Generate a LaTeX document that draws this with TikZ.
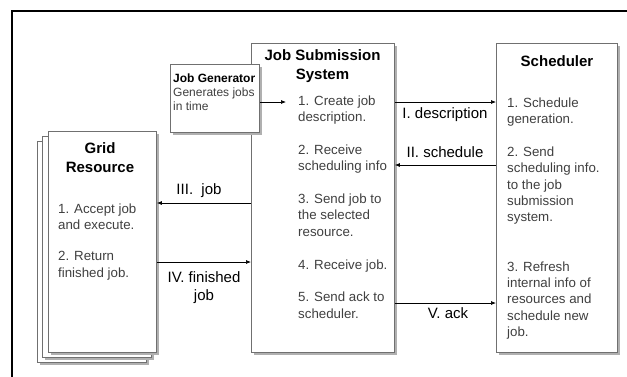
\documentclass[tikz,border=0pt]{standalone}
\usepackage{fontspec}
\setmainfont{Liberation Sans}
\usetikzlibrary{shadows,arrows.meta}
\definecolor{boxline}{HTML}{707070}
\definecolor{shadowc}{HTML}{B0B0B0}
\definecolor{bodytext}{HTML}{404040}
\begin{document}
\begin{tikzpicture}[x=1pt,y=-1pt,
  box/.style={draw=boxline, line width=0.9pt, fill=white, inner sep=0pt, anchor=north west,
    drop shadow={shadow xshift=2.5pt, shadow yshift=-2.5pt, fill=shadowc, opacity=1}},
  ttl/.style={font=\fontsize{15}{19.5}\selectfont\bfseries, align=center, inner sep=0pt, anchor=base},
  body/.style={font=\fontsize{13.3}{16.4}\selectfont, text=bodytext, align=left, inner sep=0pt, anchor=base west},
  lbl/.style={font=\fontsize{15}{18}\selectfont, inner sep=0pt, anchor=base, align=center},
  arr/.style={draw=black, line width=0.7pt, -{Latex[length=5pt,width=4pt]}}]
\useasboundingbox (0,0) rectangle (627,376);
\draw[line width=2pt] (12,400) -- (12,11) -- (650,11);

% grid resource stack
\node[box, minimum width=109pt, minimum height=221pt] (g3) at (37,141) {};
\node[box, minimum width=109pt, minimum height=221pt] (g2) at (42,136) {};
\node[box, minimum width=108pt, minimum height=221pt] (grid) at (48,131) {};
% job submission system
\node[box, minimum width=143pt, minimum height=309pt] (jss) at (251,43) {};
% scheduler
\node[box, minimum width=121pt, minimum height=309pt] (sch) at (496,43) {};
% job generator
\node[box, minimum width=89pt, minimum height=68pt] (jg) at (170,64) {};

% titles (multi-line nodes: base = last line)
\node[ttl] (jsst) at (322.5,79.5) {Job Submission\\System};
\node[ttl] (scht) at (557,66) {Scheduler};
\node[ttl] (gridt) at (100,172.5) {Grid\\Resource};

% bodies
\node[font=\fontsize{12}{14}\selectfont, align=left, anchor=base west, inner sep=0pt] (jgt) at (173,110)
  {\textbf{Job Generator}\\\textcolor{bodytext}{Generates jobs}\\\textcolor{bodytext}{in time}};
\node[body] (jssb) at (298,318.2) {1. Create job\\description.\\[16.4pt]2. Receive\\scheduling info\\[16.4pt]3. Send job to\\the selected\\resource.\\[16.4pt]4. Receive job.\\[16.4pt]5. Send ack to\\scheduler.};
\node[body] (schb) at (507,336.6) {1. Schedule\\generation.\\[16.4pt]2. Send\\scheduling info.\\to the job\\submission\\system.\\[32.8pt]3. Refresh\\internal info of\\resources and\\schedule new\\job.};
\node[body] (gridb) at (58,277.2) {1. Accept job\\and execute.\\[15pt]2. Return\\finished job.};

% labels
\node[lbl] (l1) at (445,118) {I. description};
\node[lbl] (l2) at (445,157) {II. schedule};
\node[lbl] (l3) at (199,194) {III.\ \ job};
\node[lbl] (l4) at (204,300) {IV. finished\\job};
\node[lbl] (l5) at (448,318) {V. ack};

% connectors
\coordinate (jgend) at (286,102);
\draw[arr] (jg.east |- 0,102) -- (jgend);
\draw[arr] (jss.east |- 0,102) -- (sch.west |- 0,102);
\draw[arr] (sch.west |- 0,165) -- (jss.east |- 0,165);
\draw[arr] (jss.west |- 0,203) -- (grid.east |- 0,203);
\draw[arr] (grid.east |- 0,262) -- (jss.west |- 0,262);
\draw[arr] (jss.east |- 0,303) -- (sch.west |- 0,303);
\end{tikzpicture}
\end{document}
